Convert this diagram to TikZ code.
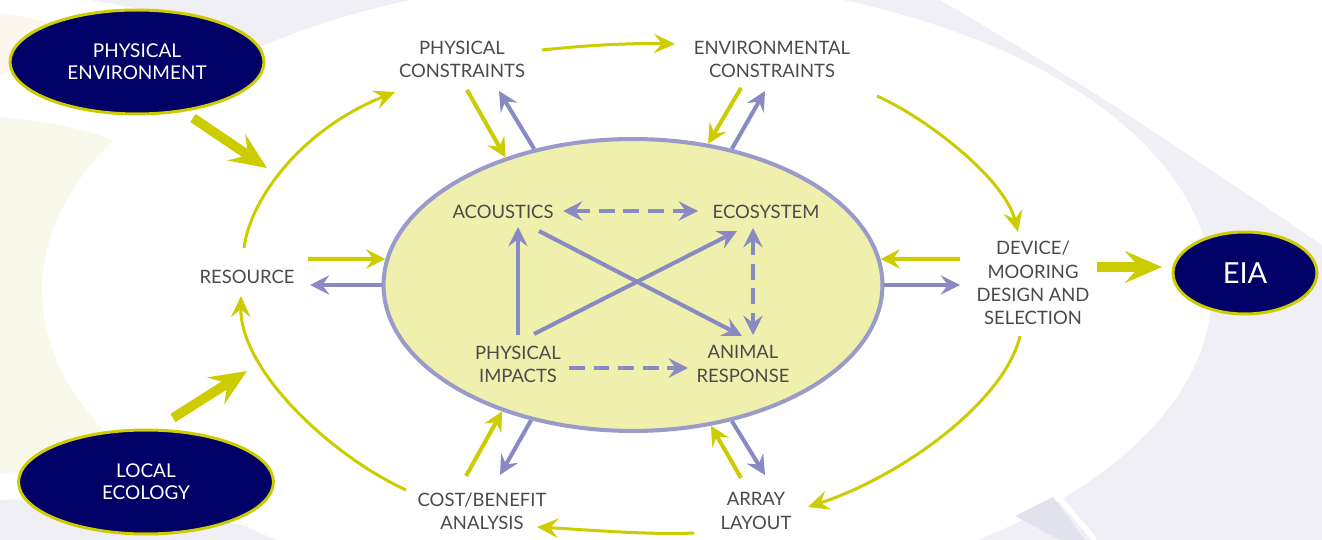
\documentclass[tikz,border=0pt]{standalone}
\usepackage{fontspec}
\setmainfont{Lato}
\usetikzlibrary{arrows.meta,shapes.geometric}

\definecolor{cyel}{HTML}{CCCC00}
\definecolor{cnavy}{HTML}{000066}
\definecolor{clav}{HTML}{8A8AC2}
\definecolor{cring}{HTML}{9B9BCB}
\definecolor{cfill}{HTML}{EFEFAE}
\definecolor{ctext}{HTML}{4A4A4A}
\definecolor{bglav}{HTML}{EFEFF5}
\definecolor{bgyel}{HTML}{F9F9EB}
\definecolor{bgpeach}{HTML}{FDF6EE}

\tikzset{
    lbl/.style={text=ctext, align=center, font=\fontsize{10.5}{13.2}\selectfont, inner sep=2pt},
    blob/.style={ellipse, draw=cyel, fill=cnavy, line width=1.7pt, text=white, align=center,
        font=\fontsize{10.8}{12.5}\selectfont, inner sep=0pt},
    cycarr/.style={draw=cyel, line width=1.7pt, -{Stealth[length=12pt,width=11pt,inset=4.5pt]}},
    bigarr/.style={draw=cyel, line width=5.5pt, -{Stealth[length=21pt,width=18pt,inset=8pt]}},
    yarr/.style={draw=cyel, line width=2.3pt, -{Stealth[length=11pt,width=11pt,inset=4pt]}},
    parr/.style={draw=clav, line width=2.3pt, -{Stealth[length=11pt,width=11pt,inset=4pt]}},
    plink/.style={draw=clav, line width=2.3pt, dash pattern=on 9pt off 5pt,
        {Stealth[length=11pt,width=11pt,inset=4pt]}-{Stealth[length=11pt,width=11pt,inset=4pt]}},
}

\begin{document}
\begin{tikzpicture}[x=0.02cm, y=-0.02cm]
    \useasboundingbox (0,0) rectangle (1322,540);
    % backdrop
    \fill[white] (0,0) rectangle (1322,540);
    \fill[bglav] (90,0) .. controls (170,12) and (240,35) .. (300,70) -- (420,0) -- cycle;
    \fill[bglav] (700,0) -- (940,0) .. controls (1100,95) .. (1322,245) -- (1322,540) -- (700,540) -- cycle;
    \fill[bglav] (0,500) .. controls (100,497) and (200,512) .. (300,540) -- (0,540) -- cycle;
    \fill[bgyel] (0,117) .. controls (50,121) and (90,130) .. (120,143) -- (300,300)
        -- (120,445) .. controls (80,462) and (40,470) .. (0,474) -- cycle;
    \fill[bgpeach] (0,13) .. controls (30,17) and (60,25) .. (80,35) -- (0,75) -- cycle;
    \fill[white] (627,290) ellipse [x radius=585, y radius=312];
    \fill[bglav!85!cring] (1015,516) -- (1053,497) -- (1085,540) -- (1060,540) -- cycle;
    \draw[white, line width=3pt] (1055,493) -- (1095,540);

    \node[ellipse, draw=cring, fill=cfill, line width=2.3pt, minimum width=9.98cm,
        minimum height=5.84cm, inner sep=0pt] (core) at (633,285) {};

    \node[lbl] (pcon) at (462,59) {PHYSICAL\\CONSTRAINTS};
    \node[lbl] (econ) at (772,59) {ENVIRONMENTAL\\CONSTRAINTS};
    \node[lbl] (res) at (247,277) {RESOURCE};
    \node[lbl] (dev) at (1033,283) {DEVICE/\\MOORING\\DESIGN AND\\SELECTION};
    \node[lbl] (arr) at (756,511) {ARRAY\\LAYOUT};
    \node[lbl] (cba) at (482,511) {COST/BENEFIT\\ANALYSIS};

    \node[lbl] (acou) at (503,212) {ACOUSTICS};
    \node[lbl] (eco) at (766,212) {ECOSYSTEM};
    \node[lbl] (phimp) at (518,364) {PHYSICAL\\IMPACTS};
    \node[lbl] (anres) at (743,364) {ANIMAL\\RESPONSE};

    \node[blob, minimum width=5.08cm, minimum height=2.08cm] (physenv) at (137,62) {PHYSICAL\\ENVIRONMENT};
    \node[blob, minimum width=5.1cm, minimum height=2.08cm] (loceco) at (146,482) {LOCAL\\ECOLOGY};
    \node[blob, minimum width=2.88cm, minimum height=1.64cm,
        font=\fontsize{16.5}{18}\selectfont] (eia) at (1245,273) {EIA};

    % outer cycle
    \draw[cycarr] ([shift={(-3,-29)}]res.center) .. controls (250,200) and (300,130) .. ([shift={(-67,33)}]pcon.center);
    \draw[cycarr] ([shift={(80,-9)}]pcon.center) .. controls (590,45) and (630,43) .. ([shift={(-97,-15)}]econ.center);
    \draw[cycarr] ([shift={(105,37)}]econ.center) .. controls (930,120) and (1005,180) .. ([shift={(-15,-51)}]dev.center);
    \draw[cycarr] ([shift={(-13,53)}]dev.center) .. controls (1005,400) and (905,475) .. ([shift={(52,-4)}]arr.center);
    \draw[cycarr] ([shift={(-62,22)}]arr.center) .. controls (650,535) and (590,530) .. ([shift={(55,16)}]cba.center);
    \draw[cycarr] ([shift={(-76,-21)}]cba.center) .. controls (330,455) and (240,370) .. ([shift={(-6,19)}]res.center);

    \draw[bigarr] ([shift={(56,56)}]physenv.center) -- ([shift={(20,-109)}]res.center);
    \draw[bigarr] ([shift={(27,-64)}]loceco.center) -- ([shift={(0,94)}]res.center);
    \draw[bigarr] ([shift={(64,-16)}]dev.center) -- ([shift={(-83,-6)}]eia.center);

    % to and from the core
    \draw[yarr] ([shift={(5,31)}]pcon.center) -- (core.135);
    \draw[parr] (core.126) -- ([shift={(37,32)}]pcon.center);
    \draw[yarr] ([shift={(-31,29)}]econ.center) -- (core.62);
    \draw[parr] (core.54) -- ([shift={(-7,32)}]econ.center);
    \draw[yarr] ([shift={(61,-18)}]res.center) -- (core.174);
    \draw[parr] (core.180) -- ([shift={(63,8)}]res.center);
    \draw[yarr] ([shift={(-73,-24)}]dev.center) -- (core.6);
    \draw[parr] (core.0) -- ([shift={(-73,2)}]dev.center);
    \draw[yarr] ([shift={(-16,-35)}]cba.center) -- (core.224);
    \draw[parr] (core.233) -- ([shift={(18,-36)}]cba.center);
    \draw[yarr] ([shift={(-15,-33)}]arr.center) -- (core.299);
    \draw[parr] (core.306) -- ([shift={(9,-36)}]arr.center);

    % inside the core
    \draw[plink] ([shift={(60,-1)}]acou.center) -- ([shift={(-68,-1)}]eco.center);
    \draw[plink] ([shift={(-13,16)}]eco.center) -- ([shift={(10,-29)}]anres.center);
    \draw[parr] ([shift={(0,-29)}]phimp.center) -- ([shift={(15,15)}]acou.center);
    \draw[parr] ([shift={(16,-30)}]phimp.center) -- ([shift={(-29,19)}]eco.center);
    \draw[parr] ([shift={(36,19)}]acou.center) -- ([shift={(-1,-28)}]anres.center);
    \draw[parr, dash pattern=on 9pt off 5pt] ([shift={(51,4)}]phimp.center) -- ([shift={(-55,4)}]anres.center);
\end{tikzpicture}
\end{document}
